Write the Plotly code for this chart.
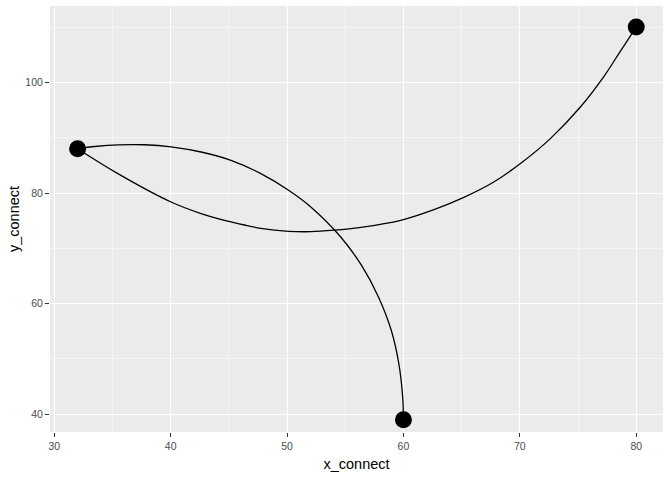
import plotly.graph_objects as go

# endpoints
x_connect = [32, 80, 60]
y_connect = [88, 110, 39]

# curve from (32,88) to (80,110)
curve_a_x = [32, 35.46, 40.03, 42.61, 45.18, 47.75, 50.13, 52.04, 54.04, 56.33,
             59.76, 62.62, 65.14, 67.76, 70.11, 72.62, 75.2, 77.2, 78.63, 80]
curve_a_y = [88, 83.5, 78.37, 76.28, 74.76, 73.62, 73.08, 73.01, 73.28, 73.8,
             75.07, 77.0, 79.17, 81.99, 85.42, 89.83, 95.54, 101.0, 105.6, 110]

# curve from (60,39) to (32,88)
curve_b_x = [60, 59.93, 59.6, 58.95, 57.85, 56.4, 54.61, 52.04, 50.13, 47.75,
             45.18, 42.61, 40.03, 37.74, 35.5, 33.5, 32]
curve_b_y = [39, 43.14, 49.18, 55.19, 61.21, 66.9, 72.05, 77.47, 80.49, 83.5,
             85.91, 87.41, 88.35, 88.72, 88.7, 88.4, 88]

fig = go.Figure()
for cx, cy in [(curve_a_x, curve_a_y), (curve_b_x, curve_b_y)]:
    fig.add_trace(go.Scatter(x=cx, y=cy, mode="lines",
                             line=dict(color="black", width=1.3, shape="spline", smoothing=1.0),
                             hoverinfo="skip", showlegend=False))
fig.add_trace(go.Scatter(x=x_connect, y=y_connect, mode="markers", cliponaxis=False,
                         marker=dict(color="black", size=17), showlegend=False))

axis_common = dict(
    showgrid=True, gridcolor="white", gridwidth=1.1,
    zeroline=False, showline=False, automargin=False,
    ticks="outside", ticklen=4, tickwidth=1, tickcolor="#333333",
    tickfont=dict(family="Liberation Sans, Arial", size=10.5, color="#4D4D4D"),
)
fig.update_layout(
    width=672, height=480,
    margin=dict(l=50, r=9, t=6, b=48),
    plot_bgcolor="#EBEBEB", paper_bgcolor="white",
    font=dict(family="Liberation Sans, Arial", color="black"),
    xaxis=dict(**axis_common, range=[29.63, 82.3], dtick=10, tick0=0,
               title=dict(text="x_connect", font=dict(size=14.5), standoff=8)),
    yaxis=dict(**axis_common, range=[36.8, 113.8], dtick=20, tick0=0,
               title=dict(text="y_connect", font=dict(size=14.5), standoff=2)),
)
fig.update_xaxes(minor=dict(showgrid=True, gridcolor="#F5F5F5", gridwidth=0.6, dtick=5, tick0=0, ticks=""))
fig.update_yaxes(minor=dict(showgrid=True, gridcolor="#F5F5F5", gridwidth=0.6, dtick=10, tick0=0, ticks=""))
fig.write_html("out.html", config={"displayModeBar": False},
               post_script="document.body.style.margin='0';")
